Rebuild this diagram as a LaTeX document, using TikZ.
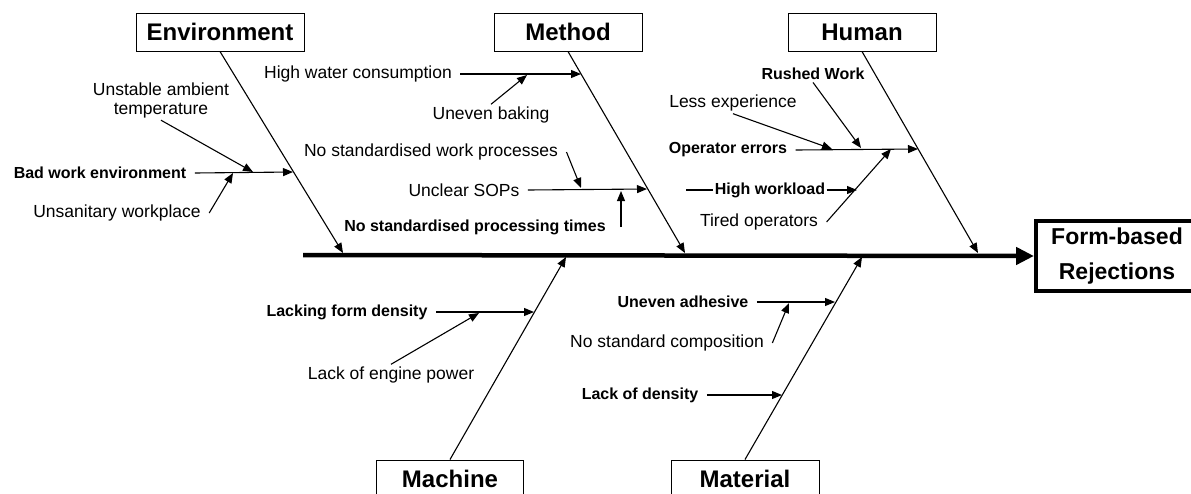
\documentclass[tikz,border=0pt]{standalone}
\usepackage{fontspec}
\setmainfont{Liberation Sans}
\usetikzlibrary{arrows.meta}

\begin{document}
\begin{tikzpicture}[x=1pt, y=-1pt, line width=1.1pt, >={Triangle[length=10pt,width=8pt]},
    cat/.style={draw, line width=1pt, font=\bfseries\fontsize{24}{28}\selectfont, minimum height=38pt, inner sep=0pt},
    cause/.style={font=\fontsize{17.5}{20}\selectfont, inner xsep=8pt, inner ysep=2pt},
    causeb/.style={font=\bfseries\fontsize{16}{19}\selectfont, inner xsep=8pt, inner ysep=2pt}]
   	 \useasboundingbox (0,0) rectangle (1191,493);
   	 \node[cat, minimum width=168pt] (env) at (220,32) {Environment};
   	 \node[cat, minimum width=148pt] (meth) at (568,32) {Method};
   	 \node[cat, minimum width=148pt] (hum) at (862,32) {Human};
   	 \node[cat, minimum width=147pt] (mach) at (450,479) {Machine};
   	 \node[cat, minimum width=148pt] (mat) at (745,479) {Material};
   	 \node[draw, line width=4pt, minimum width=162pt, minimum height=70pt, align=center, inner sep=0pt,
   	   font=\bfseries\fontsize{23}{35}\selectfont] (effect) at (1117,256) {Form-based\\Rejections};
   	 \coordinate (spinestart) at (303,255);
   	 \draw[line width=4.5pt, -{Triangle[length=18pt,width=17pt]}] (spinestart) -- (effect.west);
   	 \coordinate (envend) at (343,253);
   	 \coordinate (methend) at (685,253);
   	 \coordinate (humend) at (978,253);
   	 \coordinate (machend) at (566,257);
   	 \coordinate (matend) at (862,257);
   	 \draw[->] (env.south) -- (envend);
   	 \draw[->] (meth.south) -- (methend);
   	 \draw[->] (hum.south) -- (humend);
   	 \draw[->] (mach.north) -- (machend);
   	 \draw[->] (mat.north) -- (matend);
   	 \node[causeb] (bwe) at (100,173) {Bad work environment};
   	 \node[cause, align=center, font=\fontsize{17.5}{19}\selectfont] (uat) at (161,100) {Unstable ambient\\temperature};
   	 \node[cause] (uw) at (117,213) {Unsanitary workplace};
   	 \coordinate (jenv) at (293,172);
   	 \coordinate (jenv1) at (253,172);
   	 \coordinate (jenv2) at (233,173);
   	 \draw[->] (bwe.east) -- (jenv);
   	 \draw[->] (uat.south) -- (jenv1);
   	 \draw[->] (uw.east) -- (jenv2);
   	 \node[cause] (hwc) at (358,74) {High water consumption};
   	 \node[cause] (ub) at (491,115) {Uneven baking};
   	 \node[cause] (nsw) at (431,152) {No standardised work processes};
   	 \node[cause] (sop) at (464,190) {Unclear SOPs};
   	 \node[causeb] (nsp) at (475,227) {No standardised processing times};
   	 \coordinate (jmeth1) at (581,74);
   	 \coordinate (jmeth1a) at (527,75);
   	 \coordinate (jmeth2) at (647,189);
   	 \coordinate (jsop1) at (581,188);
   	 \coordinate (jsop2) at (621,191);
   	 \draw[->] (hwc.east) -- (jmeth1);
   	 \draw[->] (ub.north) -- (jmeth1a);
   	 \draw[->] (sop.east) -- (jmeth2);
   	 \draw[->] (nsw.east) -- (jsop1);
   	 \draw[->] (nsp.east -| jsop2) -- (jsop2);
   	 \node[causeb] (rw) at (813,74) {Rushed Work};
   	 \node[cause] (le) at (733,103) {Less experience};
   	 \node[causeb] (oe) at (728,150) {Operator errors};
   	 \node[causeb, inner xsep=1pt] (hw) at (770,190) {High workload};
   	 \node[cause] (to) at (759,222) {Tired operators};
   	 \coordinate (jhum) at (918,149);
   	 \coordinate (jop1) at (861,148);
   	 \coordinate (jop2) at (832,149);
   	 \coordinate (jtired) at (891,149);
   	 \coordinate (jhw) at (857,190);
   	 \coordinate (hwtail) at (686,190);
   	 \draw[->] (oe.east) -- (jhum);
   	 \draw[->] (rw.south) -- (jop1);
   	 \draw[->] (le.south) -- (jop2);
   	 \draw[->] (to.east) -- (jtired);
   	 \draw (hwtail) -- (hw.west);
   	 \draw[->] (hw.east) -- (jhw);
   	 \node[causeb] (lfd) at (347,312) {Lacking form density};
   	 \node[cause] (lep) at (391,375) {Lack of engine power};
   	 \coordinate (jmach) at (534,312);
   	 \coordinate (jmach1) at (479,313);
   	 \draw[->] (lfd.east) -- (jmach);
   	 \draw[->] (lep.north) -- (jmach1);
   	 \node[causeb] (ua) at (683,302) {Uneven adhesive};
   	 \node[cause] (nsc) at (667,343) {No standard composition};
   	 \node[causeb] (lod) at (640,395) {Lack of density};
   	 \coordinate (jmat1) at (835,302);
   	 \coordinate (jmat1a) at (789,303);
   	 \coordinate (jmat2) at (782,395);
   	 \draw[->] (ua.east) -- (jmat1);
   	 \draw[->] (nsc.east) -- (jmat1a);
   	 \draw[->] (lod.east) -- (jmat2);
\end{tikzpicture}
\end{document}
